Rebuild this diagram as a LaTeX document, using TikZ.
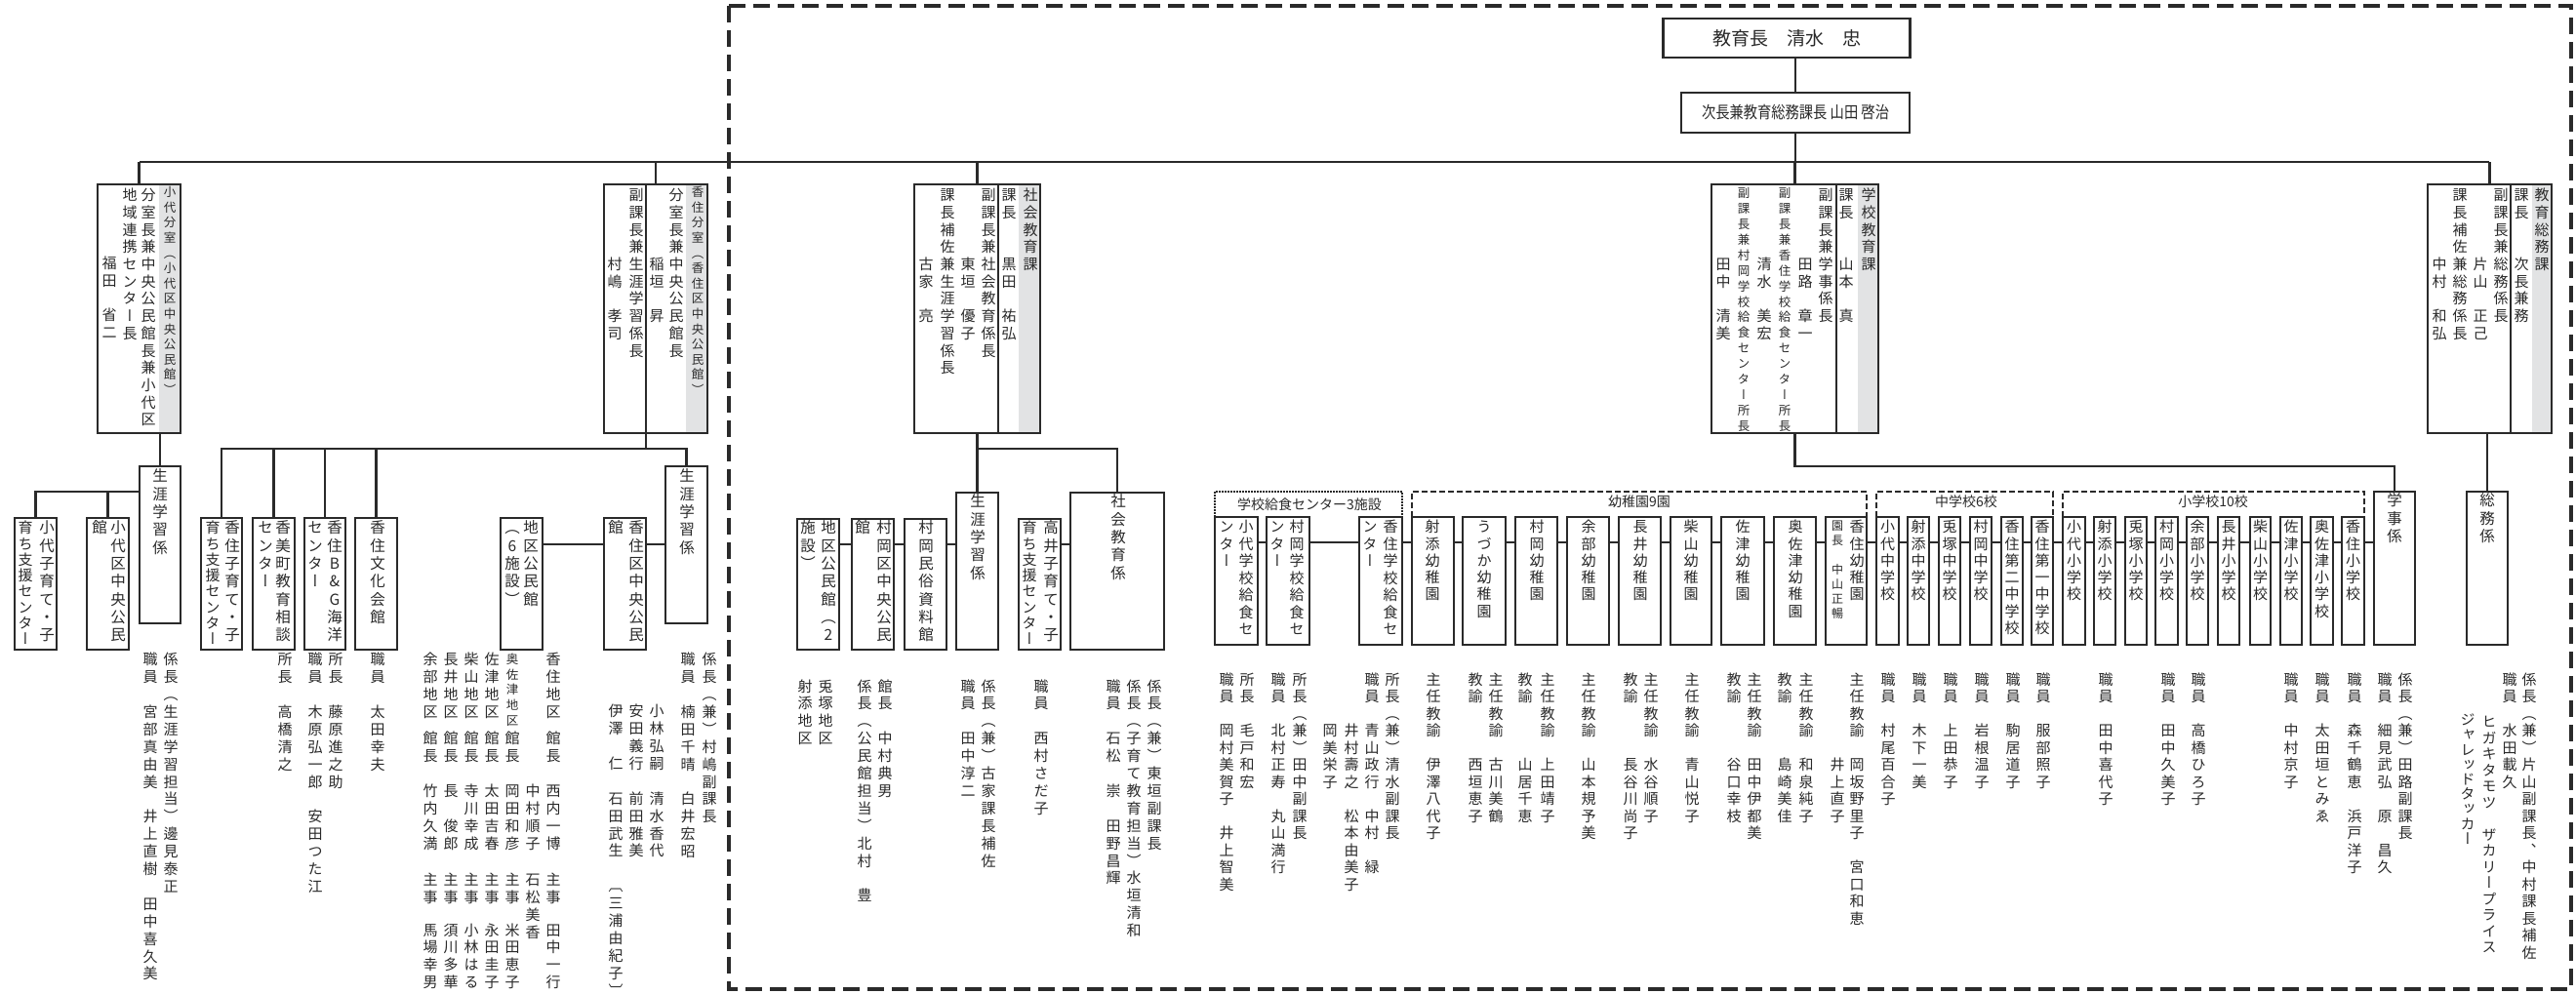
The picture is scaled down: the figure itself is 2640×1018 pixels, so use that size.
\documentclass[tikz,border=0pt]{standalone}
\usepackage{fontspec}
\usepackage{graphicx}
\setmainfont{Noto Sans CJK JP}
\newfontfamily\jpv[RawFeature=+vert]{Noto Sans CJK JP}
\definecolor{ln}{HTML}{2A2A2A}
\definecolor{stripc}{HTML}{E2E3E4}
\newdimen\vtH \newdimen\vtD
\newcounter{vtc}
\makeatletter
\def\vcell#1{\hbox{\vrule height\vtH depth\vtD width\z@\hbox to 1.1em{\hss\ifx*#1\else#1\fi\hss}}}
\def\vstackaux#1{\ifx\relax#1\else\vcell{#1}\expandafter\vstackaux\fi}
\def\vstack#1#2{\vbox{\offinterlineskip\vtH=\dimexpr#1pt/2+.38em\relax\vtD=\dimexpr#1pt/2-.38em\relax\vstackaux#2\relax}}
\makeatother
\newcommand\vtG[5]{\stepcounter{vtc}\node[vtx] (vt\arabic{vtc}) at (#3,{#4-#2/2}) {\jpv\fontsize{#1}{#1}\selectfont\vstack{#2}{#5}};}
\newcommand\vtB[3]{\vtG{15}{17.9}{#1}{#2}{#3}}
\newcommand\vtC[3]{\vtG{15}{17.5}{#1}{#2}{#3}}
\newcommand\vtL[3]{\vtG{15.5}{18.3}{#1}{#2}{#3}}
\newcommand\vtK[3]{\vtG{15}{17.3}{#1}{#2}{#3}}
\newcommand\vtT[3]{\vtG{15}{17.7}{#1}{#2}{#3}}
\newcommand\vtS[3]{\vtG{12.5}{15.6}{#1}{#2}{#3}}
\newcommand\bx[5]{\node[boxst,anchor=north west,minimum width={(#4-#2)*1pt},minimum height={(#5-#3)*1pt}] (#1) at (#2,#3) {};}
\tikzset{
  conn/.style={line width=2.6pt,draw=ln},
  boxst/.style={draw=ln,line width=2.6pt,fill=white,inner sep=0pt,outer sep=0pt},
  vtx/.style={inner sep=0pt,outer sep=0pt,anchor=north,text=ln},
  grpdash/.style={line width=2pt,draw=ln,dash pattern=on 6pt off 3pt},
  grpdot/.style={line width=2pt,draw=ln,dash pattern=on 1.6pt off 1.4pt},
  outerdash/.style={line width=3.2pt,draw=ln,dash pattern=on 17pt off 8pt},
  glabel/.style={font=\fontsize{14}{14}\selectfont,inner sep=0pt,text=ln},
}
\begin{document}
\begin{tikzpicture}[x=1pt,y=-1pt]
\useasboundingbox (0,0) rectangle (2640,1018);
% outer dashed frame
\draw[outerdash] (747,6) rectangle (2635,1014);
% main line
\coordinate (mainL) at (143,166);
\coordinate (mainR) at (2551,166);
\draw[conn] (mainL) -- (mainR);
% top boxes
\node[boxst,minimum width=253pt,minimum height=40pt,font=\fontsize{19}{19}\selectfont,text=ln] (kyoikucho) at (1831,39) {教育長　清水　忠};
\node[boxst,minimum width=234pt,minimum height=41pt,text=ln] (jicho) at (1840,115.5) {\fontsize{17}{17}\selectfont\scalebox{0.84}[1]{次長兼教育総務課長 山田 啓治}};
\draw[conn] (jicho.north) -- (jicho.north |- kyoikucho.south);
\draw[conn] (jicho.south) -- (jicho.south |- mainL);
% level 1
\bx{kodai}{100}{189}{185}{444}
\bx{kasumi}{619}{189}{725}{444}
\bx{shakai}{937}{189}{1066}{444}
\bx{gakko}{1754}{189}{1925}{444}
\bx{somu}{2488}{189}{2615}{444}
\foreach \n in {kodai,kasumi,shakai,gakko,somu} \draw[conn] (\n.north) -- (\n.north |- mainL);
\fill[stripc] (163,190.3) rectangle (183.7,442.7);
\fill[stripc] (703,190.3) rectangle (723.7,442.7);
\fill[stripc] (1044,190.3) rectangle (1064.7,442.7);
\fill[stripc] (1904,190.3) rectangle (1923.7,442.7);
\fill[stripc] (2595,190.3) rectangle (2613.7,442.7);
\draw[conn] (1023,189) -- (1023,444);
\draw[conn] (1882,189) -- (1882,444);
\draw[conn] (2573,189) -- (2573,444);
% sub boxes
\bx{kShogai}{143}{478}{185}{639}
\bx{kKosodate}{15}{531}{58}{666}
\bx{kKominkan}{89}{531}{132}{666}
\bx{sKosodate}{206}{531}{248}{666}
\bx{kamiCenter}{259}{531}{302}{666}
\bx{bgCenter}{312}{531}{354}{666}
\bx{bunka}{364}{531}{407}{666}
\bx{chikuKomA}{513}{531}{556}{666}
\bx{sChuo}{619}{531}{662}{666}
\bx{sShogai}{682}{478}{725}{639}
\bx{chikuKomB}{817}{532}{860}{666}
\bx{mChuo}{873}{532}{916}{666}
\bx{minzoku}{927}{532}{970}{666}
\bx{shShogai}{980}{505}{1023}{666}
\bx{takai}{1044}{532}{1087}{666}
\bx{shKyoiku}{1097}{505}{1193}{666}
\bx{kyuK}{1245}{530}{1289}{661}
\bx{kyuM}{1298}{530}{1342}{661}
\bx{kyuS}{1393}{530}{1437}{661}
\foreach \n/\a/\b in {yoA/1447/1490,yoB/1499/1543,yoC/1553/1596,yoD/1606/1649,yoE/1659/1702,yoF/1712/1754,yoG/1764/1808,yoH/1818/1861,yoI/1871/1913,
  chA/1923/1946,chB/1955/1977,chC/1987/2009,chD/2019/2041,chE/2051/2073,chF/2082/2104,
  shoA/2114/2137,shoB/2146/2168,shoC/2178/2200,shoD/2209/2232,shoE/2241/2263,shoF/2273/2295,shoG/2306/2327,shoH/2337/2359,shoI/2368/2391,shoJ/2400/2423}
  {\bx{\n}{\a}{530}{\b}{661}}
\bx{gakuji}{2433}{504}{2475}{661}
\bx{somuKa}{2528}{504}{2570}{661}
% connectors: kodai
\coordinate (kY) at (0,504);
\draw[conn] (kShogai.north) -- (kShogai.north |- kodai.south);
\draw[conn] (kShogai.west |- kY) -| (kKosodate.north);
\draw[conn] (kKominkan.north) -- (kKominkan.north |- kY);
% connectors: kasumi
\coordinate (sY) at (0,460);
\coordinate (kDiv) at (662,189);
\draw[conn] (kDiv) -- (kDiv |- sY);
\draw[conn] (sKosodate.north) |- (sShogai.north |- sY) -- (sShogai.north);
\foreach \n in {kamiCenter,bgCenter,bunka} \draw[conn] (\n.north) -- (\n.north |- sY);
\coordinate (sY2) at (0,558);
\draw[conn] (sShogai.west |- sY2) -- (sChuo.east |- sY2);
\draw[conn] (sChuo.west |- sY2) -- (chikuKomA.east |- sY2);
% connectors: shakai
\coordinate (shY) at (0,460);
\draw[conn] (shakai.south) -- (shShogai.north);
\draw[conn] (shakai.south |- shY) -| (shKyoiku.north);
\coordinate (shY2) at (0,558);
\draw[conn] (shShogai.west |- shY2) -- (minzoku.east |- shY2);
\draw[conn] (minzoku.west |- shY2) -- (mChuo.east |- shY2);
\draw[conn] (mChuo.west |- shY2) -- (chikuKomB.east |- shY2);
\draw[conn] (shKyoiku.west |- shY2) -- (takai.east |- shY2);
% connectors: gakko
\coordinate (gY) at (0,478);
\draw[conn] (gakko.south) -- (gakko.south |- gY) -| (gakuji.north);
\coordinate (gY2) at (0,556);
\foreach \p/\q in {kyuK/kyuM,kyuM/kyuS,kyuS/yoA,yoA/yoB,yoB/yoC,yoC/yoD,yoD/yoE,yoE/yoF,yoF/yoG,yoG/yoH,yoH/yoI,yoI/chA,chA/chB,chB/chC,chC/chD,chD/chE,chE/chF,chF/shoA,shoA/shoB,shoB/shoC,shoC/shoD,shoD/shoE,shoE/shoF,shoF/shoG,shoG/shoH,shoH/shoI,shoI/shoJ,shoJ/gakuji}
  \draw[conn] (\p.east |- gY2) -- (\q.west |- gY2);
% connectors: somu
\draw[conn] (somuKa.north) -- (somuKa.north |- somu.south);
% group brackets
\draw[grpdot] (kyuK.north west) -- ++(0,-26) -| (kyuS.north east);
\draw[grpdash] (yoA.north west) -- ++(0,-26) -| (yoI.north east);
\draw[grpdash] (chA.north west) -- ++(0,-26) -| (chF.north east);
\draw[grpdash] (shoA.north west) -- ++(0,-26) -| (shoJ.north east);
\node[glabel] (gl1) at (1342,517) {学校給食センター3施設};
\node[glabel] (gl2) at (1680,514) {幼稚園9園};
\node[glabel] (gl3) at (2015,514) {中学校6校};
\node[glabel] (gl4) at (2268,514) {小学校10校};
% ===== texts level 1 =====
\vtS{174}{197}{小代分室（小代区中央公民館）}
\vtT{152}{200}{分室長兼中央公民館長兼小代区}
\vtT{133}{200}{地域連携センター長}
\vtT{112}{270}{福田*省二}
\vtS{715}{197}{香住分室（香住区中央公民館）}
\vtT{693}{200}{分室長兼中央公民館長}
\vtT{673}{271}{稲垣*昇}
\vtT{652}{200}{副課長兼生涯学習係長}
\vtT{630}{271}{村嶋*孝司}
\vtT{1056}{200}{社会教育課}
\vtT{1034}{200}{課長**黒田*祐弘}
\vtT{1013}{200}{副課長兼社会教育係長}
\vtT{992}{271}{東垣*優子}
\vtT{971}{200}{課長補佐兼生涯学習係長}
\vtT{949}{271}{古家*亮}
\vtT{1915}{200}{学校教育課}
\vtT{1892}{200}{課長**山本*真}
\vtT{1871}{200}{副課長兼学事係長}
\vtT{1850}{271}{田路*章一}
\vtG{12.5}{15.9}{1829}{198}{副課長兼香住学校給食センター所長}
\vtT{1808}{271}{清水*美宏}
\vtG{12.5}{15.9}{1787}{198}{副課長兼村岡学校給食センター所長}
\vtT{1766}{271}{田中*清美}
\vtT{2605}{200}{教育総務課}
\vtT{2584}{200}{課長**次長兼務}
\vtT{2563}{200}{副課長兼総務係長}
\vtT{2542}{271}{片山*正己}
\vtT{2521}{200}{課長補佐兼総務係長}
\vtT{2500}{271}{中村*和弘}
% ===== box labels =====
\vtL{164}{488}{生涯学習係}
\vtL{48}{541}{小代子育て・子}
\vtG{15}{16.3}{26}{541}{育ち支援センター}
\vtL{121}{541}{小代区中央公民}
\vtL{102}{541}{館}
\vtL{238}{541}{香住子育て・子}
\vtG{15}{16.3}{218}{541}{育ち支援センター}
\vtL{290}{541}{香美町教育相談}
\vtL{272}{541}{センター}
\vtL{343}{541}{香住B\&G海洋}
\vtL{323}{541}{センター}
\vtL{387}{541}{香住文化会館}
\vtL{544}{541}{地区公民館}
\vtL{525}{541}{（6施設）}
\vtL{652}{541}{香住区中央公民}
\vtL{631}{541}{館}
\vtL{704}{488}{生涯学習係}
\vtL{849}{541}{地区公民館（2}
\vtL{828}{541}{施設）}
\vtL{906}{541}{村岡区中央公民}
\vtL{884}{541}{館}
\vtL{949}{541}{村岡民俗資料館}
\vtL{1002}{514}{生涯学習係}
\vtL{1077}{541}{高井子育て・子}
\vtG{15}{16.3}{1055}{541}{育ち支援センター}
\vtL{1146}{514}{社会教育係}
\vtG{15}{17.5}{1277}{540}{小代学校給食セ}
\vtG{15}{17.5}{1257}{540}{ンター}
\vtG{15}{17.5}{1329}{540}{村岡学校給食セ}
\vtG{15}{17.5}{1309}{540}{ンター}
\vtG{15}{17.5}{1425}{540}{香住学校給食セ}
\vtG{15}{17.5}{1404}{540}{ンター}
\vtK{1468}{540}{射添幼稚園}
\vtK{1521}{540}{うづか幼稚園}
\vtK{1575}{540}{村岡幼稚園}
\vtK{1628}{540}{余部幼稚園}
\vtK{1681}{540}{長井幼稚園}
\vtK{1733}{540}{柴山幼稚園}
\vtK{1786}{540}{佐津幼稚園}
\vtK{1840}{540}{奥佐津幼稚園}
\vtK{1903}{540}{香住幼稚園}
\vtG{12}{15}{1883}{539}{園長*中山正暢}
\vtK{1934.5}{540}{小代中学校}
\vtK{1966}{540}{射添中学校}
\vtK{1998}{540}{兎塚中学校}
\vtK{2030}{540}{村岡中学校}
\vtK{2062}{540}{香住第二中学校}
\vtK{2093}{540}{香住第一中学校}
\vtK{2125.5}{540}{小代小学校}
\vtK{2157}{540}{射添小学校}
\vtK{2189}{540}{兎塚小学校}
\vtK{2220.5}{540}{村岡小学校}
\vtK{2252}{540}{余部小学校}
\vtK{2284}{540}{長井小学校}
\vtK{2316.5}{540}{柴山小学校}
\vtK{2348}{540}{佐津小学校}
\vtK{2379.5}{540}{奥佐津小学校}
\vtK{2411.5}{540}{香住小学校}
\vtL{2454}{513}{学事係}
\vtL{2549}{513}{総務係}
% ===== staff =====
\vtB{175}{676}{係長（生涯学習担当）邊見泰正}
\vtB{154}{676}{職員*宮部真由美*井上直樹*田中喜久美}
\vtB{292}{676}{所長*高橋清之}
\vtB{344}{676}{所長*藤原進之助}
\vtB{323}{676}{職員*木原弘一郎*安田つた江}
\vtB{387}{676}{職員*太田幸夫}
% district halls
\vtB{567}{676}{香住地区}\vtB{567}{756.7}{館長}\vtB{567}{810.7}{西内一博}\vtB{567}{901.7}{主事}\vtB{567}{953.3}{田中一行}
\vtB{546}{810.7}{中村順子}\vtB{546}{901.7}{石松美香}
\vtG{12.5}{15.6}{525}{676}{奥佐津地区}\vtB{525}{756.7}{館長}\vtB{525}{810.7}{岡田和彦}\vtB{525}{901.7}{主事}\vtB{525}{953.3}{米田恵子}
\vtB{504}{676}{佐津地区}\vtB{504}{756.7}{館長}\vtB{504}{810.7}{太田吉春}\vtB{504}{901.7}{主事}\vtB{504}{953.3}{永田圭子}
\vtB{483}{676}{柴山地区}\vtB{483}{756.7}{館長}\vtB{483}{810.7}{寺川幸成}\vtB{483}{901.7}{主事}\vtB{483}{953.3}{小林はる}
\vtB{462}{676}{長井地区}\vtB{462}{756.7}{館長}\vtB{462}{810.7}{長*俊郎}\vtB{462}{901.7}{主事}\vtB{462}{953.3}{須川多華}
\vtB{441}{676}{余部地区}\vtB{441}{756.7}{館長}\vtB{441}{810.7}{竹内久満}\vtB{441}{901.7}{主事}\vtB{441}{953.3}{馬場幸男}
\vtB{727}{676}{係長（兼）村嶋副課長}
\vtB{705}{676}{職員*楠田千晴*白井宏昭}
\vtB{673}{729}{小林弘嗣*清水香代}
\vtB{652}{729}{安田義行*前田雅美}
\vtB{631}{729}{伊澤*仁*石田武生*〔三浦由紀子〕}
% shakai staff
\vtB{907}{703.3}{館長*中村典男}
\vtB{886}{703.3}{係長（公民館担当）北村*豊}
\vtB{846}{703.3}{兎塚地区}
\vtB{825}{703.3}{射添地区}
\vtB{1013}{703.3}{係長（兼）古家課長補佐}
\vtB{992}{703.3}{職員*田中淳二}
\vtB{1067}{703.3}{職員*西村さだ子}
\vtB{1183}{703.3}{係長（兼）東垣副課長}
\vtB{1162}{703.3}{係長（子育て教育担当）水垣清和}
\vtB{1141}{703.3}{職員*石松*崇*田野昌輝}
% school staff
\vtC{1278}{696.7}{所長*毛戸和宏}
\vtC{1257}{696.7}{職員*岡村美賀子*井上智美}
\vtC{1332}{696.7}{所長（兼）田中副課長}
\vtC{1310}{696.7}{職員*北村正寿*丸山満行}
\vtC{1427}{696.7}{所長（兼）清水副課長}
\vtC{1406}{696.7}{職員*青山政行*中村*緑}
\vtC{1385}{749.2}{井村壽之*松本由美子}
\vtC{1363}{749.2}{岡美栄子}
\vtC{1469}{696.7}{主任教諭*伊澤八代子}
\vtC{1533}{696.7}{主任教諭*古川美鶴}
\vtC{1512}{696.7}{教諭***西垣恵子}
\vtC{1586}{696.7}{主任教諭*上田靖子}
\vtC{1563}{696.7}{教諭***山居千恵}
\vtC{1628}{696.7}{主任教諭*山本規予美}
\vtC{1692}{696.7}{主任教諭*水谷順子}
\vtC{1671}{696.7}{教諭***長谷川尚子}
\vtC{1734}{696.7}{主任教諭*青山悦子}
\vtC{1798}{696.7}{主任教諭*田中伊都美}
\vtC{1777}{696.7}{教諭***谷口幸枝}
\vtC{1851}{696.7}{主任教諭*和泉純子}
\vtC{1829}{696.7}{教諭***島崎美佳}
\vtC{1903}{696.7}{主任教諭*岡坂野里子*宮口和恵}
\vtC{1883}{784.2}{井上直子}
\vtC{1935}{696.7}{職員*村尾百合子}
\vtC{1967}{696.7}{職員*木下一美}
\vtC{1999}{696.7}{職員*上田恭子}
\vtC{2031}{696.7}{職員*岩根温子}
\vtC{2063}{696.7}{職員*駒居道子}
\vtC{2094}{696.7}{職員*服部照子}
\vtC{2158}{696.7}{職員*田中喜代子}
\vtC{2222}{696.7}{職員*田中久美子}
\vtC{2253}{696.7}{職員*高橋ひろ子}
\vtC{2348}{696.7}{職員*中村京子}
\vtC{2380}{696.7}{職員*太田垣とみゑ}
\vtC{2413}{696.7}{職員*森千鶴恵*浜戸洋子}
\vtC{2465}{696.7}{係長（兼）田路副課長}
\vtC{2444}{696.7}{職員*細見武弘*原*昌久}
\vtC{2592}{696.7}{係長（兼）片山副課長、中村課長補佐}
\vtC{2572}{696.7}{職員*水田載久}
\vtG{15}{16.5}{2551}{740}{ヒガキタモツ*ザカリープライス}
\vtG{15}{15.2}{2529}{738}{ジャレッドタッカー}
\end{tikzpicture}
\end{document}
